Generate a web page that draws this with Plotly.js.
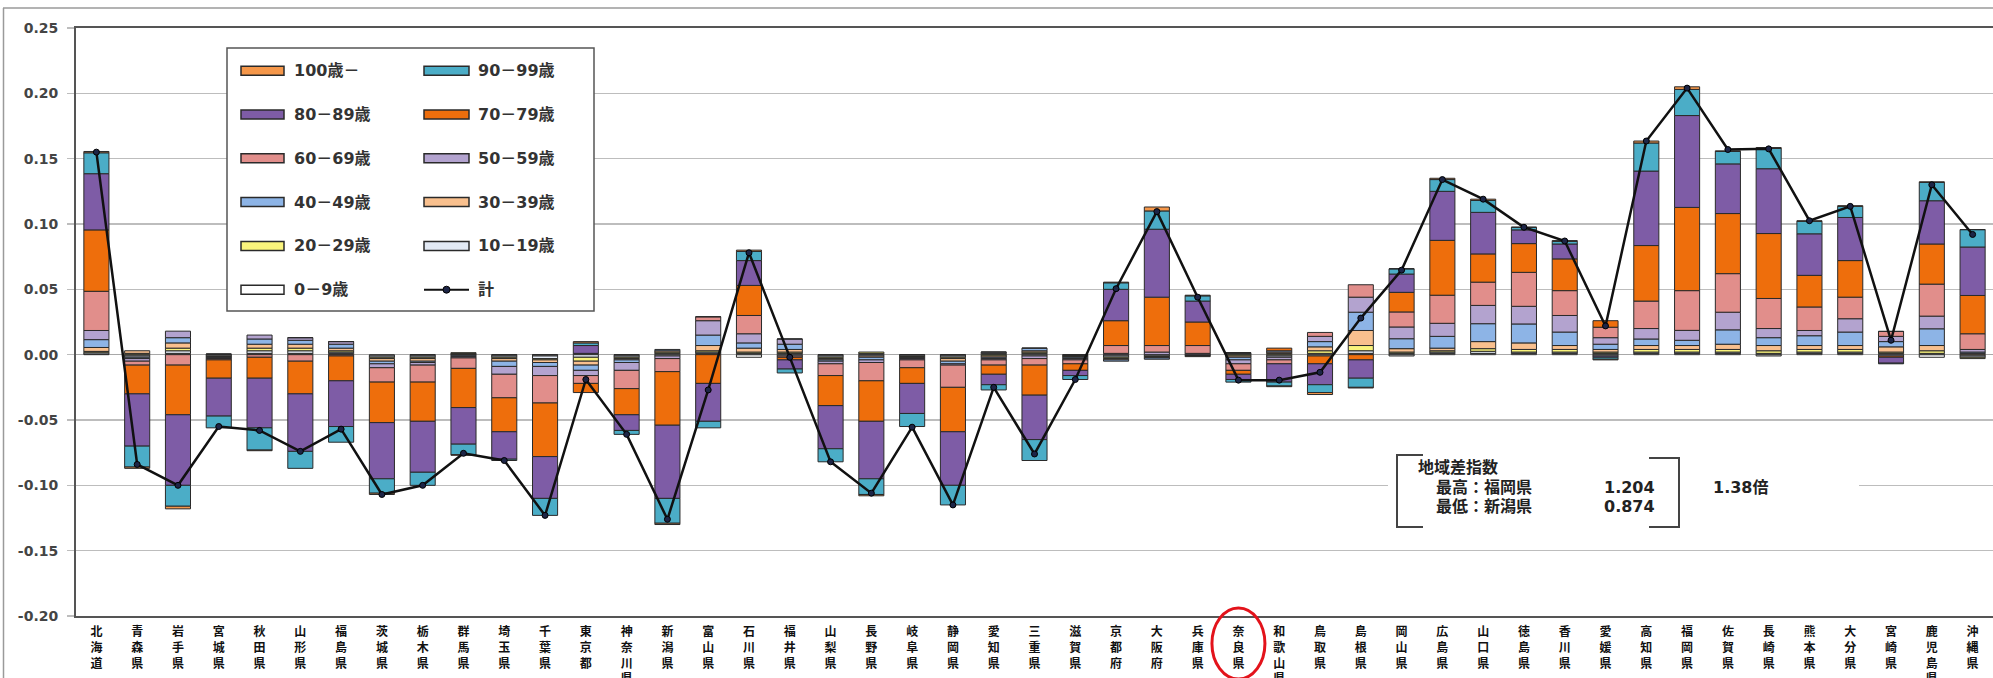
<!DOCTYPE html>
<html>
<head>
<meta charset="utf-8">
<script src="https://cdn.plot.ly/plotly-3.0.1.min.js"></script>
<style>
html,body{margin:0;padding:0;background:#fff;}
#chart{width:1993px;height:678px;}
</style>
</head>
<body>
<div id="chart"></div>
<script>
const prefectures = ['北海道','青森県','岩手県','宮城県','秋田県','山形県','福島県','茨城県','栃木県','群馬県','埼玉県','千葉県','東京都','神奈川県','新潟県','富山県','石川県','福井県','山梨県','長野県','岐阜県','静岡県','愛知県','三重県','滋賀県','京都府','大阪府','兵庫県','奈良県','和歌山県','鳥取県','島根県','岡山県','広島県','山口県','徳島県','香川県','愛媛県','高知県','福岡県','佐賀県','長崎県','熊本県','大分県','宮崎県','鹿児島県','沖縄県'];

const age0_9 = [0.0005,-0.001,0.001,-0.001,0.001,0.001,0.001,-0.001,-0.001,0.0005,
 -0.001,-0.001,0.001,-0.001,-0.001,0.001,-0.002,-0.001,-0.001,0.001,
 -0.001,-0.001,0.001,-0.001,-0.0005,-0.001,-0.001,-0.0005,0.001,-0.001,
 -0.001,0.001,-0.001,0.001,0.001,0.001,0.001,-0.001,0.001,0.001,
 0.001,-0.001,0.001,0.001,-0.001,-0.002,-0.001];
const age10_19 = [0.001,-0.001,0.002,0.0005,0.002,0.002,0.001,-0.001,-0.001,0.0005,
 -0.001,-0.002,-0.002,-0.001,0.001,0.001,0.001,0.001,-0.001,-0.001,
 -0.0005,-0.001,0.001,0.001,-0.0005,-0.001,-0.0005,-0.0005,0.0005,-0.001,
 0.001,0.002,0.001,0.001,0.0016,0.001,0.001,0.001,0.001,0.001,
 0.001,0.001,0.001,0.001,0.001,0.001,-0.001];
const age20_29 = [0.001,0.001,0.002,-0.0005,0.002,0.002,0.001,-0.001,-0.001,0.0005,
 -0.001,-0.001,-0.003,-0.001,0.001,0.001,0.001,0.001,-0.001,0.001,
 -0.0005,-0.001,-0.001,0.001,-0.0005,-0.001,-0.0005,0,-0.001,0.001,
 0.002,0.004,0.001,0.001,0.002,0.002,0.002,0.001,0.002,0.002,
 0.002,0.002,0.002,0.002,0.001,0.002,-0.001];
const age30_39 = [0.003,0.002,0.004,-0.0005,0.003,0.003,0.002,-0.002,-0.002,-0.0005,
 -0.002,-0.002,-0.003,-0.001,0.001,0.004,0.003,0.002,-0.001,-0.001,
 -0.0005,-0.002,-0.001,0.001,-0.0005,-0.001,-0.0005,-0.0005,-0.001,0.001,
 0.003,0.0115,0.0026,0.002,0.0054,0.005,0.003,0.002,0.003,0.003,
 0.004,0.004,0.003,0.003,0.004,0.004,0.001];
const age40_49 = [0.006,-0.001,0.004,-0.0005,0.004,0.003,0.003,-0.002,-0.001,-0.001,
 -0.004,-0.003,-0.004,-0.002,0.001,0.008,0.004,0.004,-0.001,-0.002,
 -0.0005,-0.002,-0.001,0.002,-0.001,-0.001,-0.001,0,-0.002,0.001,
 0.004,0.014,0.0076,0.009,0.0137,0.0145,0.0103,0.004,0.005,0.004,
 0.011,0.006,0.0075,0.0103,0.004,0.0128,0.001];
const age50_59 = [0.007,-0.002,0.005,-0.0005,0.003,0.002,0.002,-0.003,-0.002,-0.001,
 -0.006,-0.007,-0.004,-0.006,-0.002,0.011,0.007,0.004,-0.002,-0.002,
 -0.001,-0.001,-0.001,-0.002,-0.001,0.001,0.002,0.001,-0.003,-0.002,
 0.004,0.0115,0.009,0.010,0.014,0.0135,0.0127,0.005,0.008,0.0076,
 0.0135,0.007,0.004,0.0102,0.004,0.0097,0.002];
const age60_69 = [0.030,-0.003,-0.008,-0.001,-0.002,-0.005,-0.001,-0.011,-0.013,-0.008,
 -0.018,-0.021,-0.006,-0.014,-0.010,0.003,0.014,-0.001,-0.009,-0.014,
 -0.006,-0.017,-0.004,-0.005,-0.003,0.006,0.005,0.006,-0.005,-0.003,
 0.003,0.0095,0.0115,0.0215,0.0178,0.026,0.019,0.008,0.021,0.0304,
 0.0295,0.023,0.018,0.0165,0.0038,0.0245,0.012];
const age70_79 = [0.047,-0.022,-0.038,-0.014,-0.016,-0.025,-0.019,-0.031,-0.030,-0.030,
 -0.026,-0.041,-0.007,-0.020,-0.041,-0.022,0.023,-0.002,-0.023,-0.031,
 -0.012,-0.034,-0.007,-0.023,-0.005,0.019,0.037,0.018,-0.003,0.002,
 -0.006,-0.004,0.015,0.042,0.0216,0.022,0.0243,0.005,0.0425,0.0637,
 0.046,0.0497,0.0242,0.028,-0.001,0.0307,0.0293];
const age80_89 = [0.043,-0.040,-0.054,-0.029,-0.038,-0.044,-0.035,-0.043,-0.039,-0.028,
 -0.021,-0.032,0.006,-0.012,-0.056,-0.029,0.019,-0.007,-0.033,-0.044,
 -0.023,-0.041,-0.008,-0.034,-0.004,0.024,0.052,0.016,-0.004,-0.014,
 -0.016,-0.014,0.014,0.0375,0.0318,0.0105,0.0114,-0.001,0.057,0.0703,
 0.038,0.0496,0.0318,0.033,-0.0045,0.0331,0.0371];
const age90_99 = [0.016,-0.016,-0.016,-0.009,-0.017,-0.013,-0.012,-0.011,-0.010,-0.008,
 -0.001,-0.013,0.002,-0.003,-0.019,-0.005,0.007,-0.003,-0.010,-0.012,
 -0.010,-0.015,-0.004,-0.016,-0.003,0.005,0.014,0.004,-0.002,-0.003,
 -0.006,-0.007,0.004,0.009,0.0091,0.002,0.002,-0.0015,0.0215,0.020,
 0.0095,0.0155,0.0095,0.0085,-0.0005,0.014,0.0133];
const age100 = [0.001,-0.001,-0.002,0,-0.0005,0,0,-0.001,0,-0.0005,
 0,0,0.001,0,-0.001,0,0.001,0,0,-0.001,
 0,0,0,0,0,0.0005,0.003,0.0005,0,-0.0005,
 -0.0015,-0.0005,0,0.001,0.001,0,0.0006,-0.0005,0.0015,0.002,
 0.0005,0.0007,0.0005,0.0005,0,0.0005,0];
const total = [0.155,-0.084,-0.100,-0.055,-0.058,-0.074,-0.057,-0.107,-0.100,-0.0755,
 -0.081,-0.123,-0.019,-0.061,-0.126,-0.027,0.078,-0.002,-0.082,-0.106,
 -0.0555,-0.115,-0.025,-0.076,-0.019,0.0505,0.1095,0.044,-0.0195,-0.0195,
 -0.0135,0.028,0.0647,0.134,0.119,0.0975,0.087,0.022,0.1635,0.204,
 0.157,0.1575,0.1025,0.1135,0.011,0.130,0.092];

const seriesNames = ['0－9歳','10－19歳','20－29歳','30－39歳','40－49歳','50－59歳','60－69歳','70－79歳','80－89歳','90－99歳','100歳－'];
const seriesValues = [age0_9, age10_19, age20_29, age30_39, age40_49, age50_59, age60_69, age70_79, age80_89, age90_99, age100];
const seriesColors = ['#FFFFFF','#E2E9F4','#FAF47C','#F9C08E','#8DB4E6','#B3A3CF','#E18E8B','#EE6E0C','#7E5CA6','#4BADC7','#F5974A'];
const totalName = '計';
const yTickVals = [0.25,0.20,0.15,0.10,0.05,0.00,-0.05,-0.10,-0.15,-0.20];

const noteTitle = '地域差指数';
const noteHighLabel = '最高：福岡県', noteHighValue = '1.204';
const noteLowLabel = '最低：新潟県', noteLowValue = '0.874';
const noteRatio = '1.38倍';
const highlightPrefecture = '奈良県';

// ---- layout geometry (pixels) ----
const L = 76, T = 28, W = 1917, H = 588;
const px = x => (x - L) / W;
const py = y => (T + H - y) / H;

const traces = seriesValues.map((vals, i) => ({
  type: 'bar', name: seriesNames[i], x: prefectures, y: vals,
  marker: {color: seriesColors[i], line: {color: '#2a2a2a', width: 1}},
  hoverinfo: 'x+y+name'
}));
traces.push({
  type: 'scatter', mode: 'lines+markers', name: totalName, x: prefectures, y: total,
  line: {color: '#111111', width: 2.5},
  marker: {color: '#1d2546', size: 6, line: {color: '#000', width: 1}}
});

const shapes = [];
const annotations = [];

// outer frame
shapes.push({type:'line', xref:'paper', yref:'paper', x0:px(3), x1:px(1993), y0:py(8), y1:py(8), line:{color:'#9a9a9a', width:1.5}});
shapes.push({type:'line', xref:'paper', yref:'paper', x0:px(3.5), x1:px(3.5), y0:py(8), y1:py(678), line:{color:'#9a9a9a', width:1.5}});

// legend box
shapes.push({type:'rect', xref:'paper', yref:'paper', x0:px(227), x1:px(594), y0:py(311), y1:py(48),
  fillcolor:'#ffffff', line:{color:'#555', width:1.5}, layer:'above'});
const legendItems = seriesNames.map((n, i) => ({name: n, color: seriesColors[i]})).reverse();
legendItems.push({name: totalName, line: true});
legendItems.forEach((it, i) => {
  const col = i % 2, row = Math.floor(i / 2);
  const cy = 70.7 + row * 43.8;
  const sx0 = col === 0 ? 241 : 424, sx1 = col === 0 ? 284 : 469;
  const tx = col === 0 ? 292 : 476;
  if (it.line) {
    shapes.push({type:'line', xref:'paper', yref:'paper', x0:px(sx0), x1:px(sx1), y0:py(cy), y1:py(cy), line:{color:'#111', width:2}, layer:'above'});
    const mx = (sx0 + sx1) / 2;
    shapes.push({type:'circle', xref:'paper', yref:'paper', x0:px(mx-3.5), x1:px(mx+3.5), y0:py(cy+3.5), y1:py(cy-3.5), fillcolor:'#1d2546', line:{color:'#000', width:1}, layer:'above'});
  } else {
    shapes.push({type:'rect', xref:'paper', yref:'paper', x0:px(sx0), x1:px(sx1), y0:py(cy+4.5), y1:py(cy-4.5), fillcolor:it.color, line:{color:'#2a2a2a', width:1.5}, layer:'above'});
  }
  annotations.push({xref:'paper', yref:'paper', x:px(tx), y:py(cy), xanchor:'left', yanchor:'middle', showarrow:false,
    text:it.name, font:{family:'DejaVu Sans, Noto Sans CJK JP', size:16, color:'#333', weight:'bold'}});
});

// note block with brackets
shapes.push({type:'rect', xref:'paper', yref:'paper', x0:px(1388), x1:px(1859), y0:py(535), y1:py(448), fillcolor:'#ffffff', line:{width:0}, layer:'above'});
const pathL = `M ${px(1423)} ${py(455)} L ${px(1397)} ${py(455)} L ${px(1397)} ${py(527)} L ${px(1423)} ${py(527)}`;
const pathR = `M ${px(1649)} ${py(458)} L ${px(1679)} ${py(458)} L ${px(1679)} ${py(527)} L ${px(1649)} ${py(527)}`;
shapes.push({type:'path', xref:'paper', yref:'paper', path:pathL, line:{color:'#444', width:2}, layer:'above'});
shapes.push({type:'path', xref:'paper', yref:'paper', path:pathR, line:{color:'#444', width:2}, layer:'above'});
const noteFont = {family:'DejaVu Sans, Noto Sans CJK JP', size:16, color:'#222', weight:'bold'};
const noteItems = [
  {t:noteTitle, x:1416, y:468, a:'left'},
  {t:noteHighLabel, x:1434, y:487, a:'left'},
  {t:noteHighValue, x:1657, y:487, a:'right'},
  {t:noteLowLabel, x:1434, y:506, a:'left'},
  {t:noteLowValue, x:1657, y:506, a:'right'},
  {t:noteRatio, x:1711, y:487, a:'left'}
];
noteItems.forEach(n => annotations.push({xref:'paper', yref:'paper', x:px(n.x), y:py(n.y), xanchor:n.a, yanchor:'middle', showarrow:false, text:n.t, font:noteFont}));

// red ellipse around highlighted prefecture label
const hi = prefectures.indexOf(highlightPrefecture);
const hcx = L + W / prefectures.length * (hi + 0.5);
shapes.push({type:'circle', xref:'paper', yref:'paper', x0:px(hcx-26.5), x1:px(hcx+26.5), y0:py(679), y1:py(608), line:{color:'#E3131B', width:3}, layer:'above'});

const layout = {
  width: 1993, height: 678,
  margin: {l: L, r: 0, t: T, b: 678 - T - H},
  paper_bgcolor: '#ffffff', plot_bgcolor: '#ffffff',
  barmode: 'relative', bargap: 0.385,
  showlegend: false,
  xaxis: {
    type: 'category', range: [-0.5, prefectures.length - 0.5], autorange: false,
    tickmode: 'array', tickvals: prefectures,
    ticktext: prefectures.map(s => s.split('').join('<br>')),
    tickangle: 0, ticks: '', showgrid: false, zeroline: false,
    showline: true, linecolor: '#555', linewidth: 2, mirror: true,
    tickfont: {family: 'Noto Sans CJK JP', size: 12, color: '#111', weight: 'bold'},
    ticklabelstandoff: 4
  },
  yaxis: {
    range: [-0.2, 0.25], autorange: false, tickmode: 'array', tickvals: yTickVals,
    ticktext: yTickVals.map(v => v.toFixed(2)),
    showgrid: true, gridcolor: '#bdbdbd', gridwidth: 1.5,
    zeroline: true, zerolinecolor: '#a8a8a8', zerolinewidth: 1.5,
    showline: true, linecolor: '#555', linewidth: 2,
    ticks: 'outside', ticklen: 7, tickcolor: '#bdbdbd', tickwidth: 1.5,
    tickfont: {family: 'DejaVu Sans', size: 14, color: '#444', weight: 'bold'},
    ticklabelstandoff: 6
  },
  shapes: shapes,
  annotations: annotations
};

Plotly.newPlot('chart', traces, layout, {displayModeBar: false, staticPlot: true});
</script>
</body>
</html>
